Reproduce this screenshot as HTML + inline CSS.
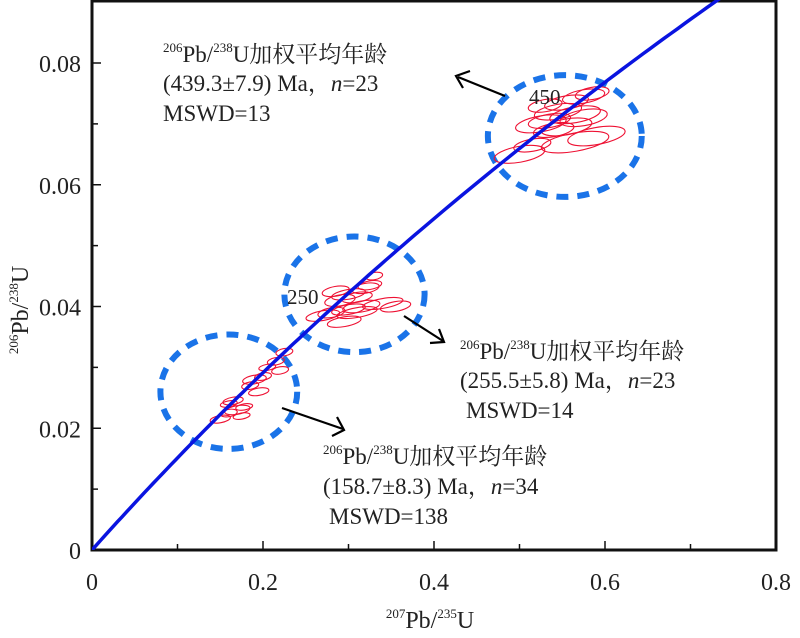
<!DOCTYPE html>
<html><head><meta charset="utf-8"><style>
body{margin:0;background:#fff;}
svg text{font-family:"Liberation Serif","DejaVu Serif","Noto Serif CJK SC",serif;fill:#222;}
</style></head><body>
<svg id="chart" width="800" height="633" viewBox="0 0 800 633" xmlns="http://www.w3.org/2000/svg" font-family="Liberation Serif, DejaVu Serif, Noto Serif CJK SC, serif">
<g id="frame-g"></g>
<g id="circles-g"></g>
<g id="ell-g"></g>
<g id="curve-g"></g>
<g id="text-g">
 <text x="529" y="104" font-size="21">450</text>
 <text x="287" y="304" font-size="21">250</text>
 <g font-size="23">
  <text x="163" y="62"><tspan font-size="13" dy="-10">206</tspan><tspan dy="10">Pb/</tspan><tspan font-size="13" dy="-10">238</tspan><tspan dy="10">U加权平均年龄</tspan></text>
  <text x="163" y="91">(439.3±7.9) Ma，<tspan font-style="italic">n</tspan>=23</text>
  <text x="163" y="121">MSWD=13</text>
 </g>
 <g font-size="23">
  <text x="460" y="359"><tspan font-size="13" dy="-10">206</tspan><tspan dy="10">Pb/</tspan><tspan font-size="13" dy="-10">238</tspan><tspan dy="10">U加权平均年龄</tspan></text>
  <text x="460" y="388">(255.5±5.8) Ma，<tspan font-style="italic">n</tspan>=23</text>
  <text x="466" y="418">MSWD=14</text>
 </g>
 <g font-size="23">
  <text x="323" y="464"><tspan font-size="13" dy="-10">206</tspan><tspan dy="10">Pb/</tspan><tspan font-size="13" dy="-10">238</tspan><tspan dy="10">U加权平均年龄</tspan></text>
  <text x="323" y="494">(158.7±8.3) Ma，<tspan font-style="italic">n</tspan>=34</text>
  <text x="329" y="524">MSWD=138</text>
 </g>
 <g stroke="#000" stroke-width="2.2" fill="none">
  <line x1="505" y1="96" x2="458" y2="77"/><polyline points="470,71 456,76 463,88"/>
  <line x1="404" y1="316" x2="443" y2="341"/><polyline points="430,343 444,342 439,329"/>
  <line x1="282" y1="408" x2="343" y2="429"/><polyline points="332,436 344,430 337,417"/>
 </g>
 <text x="430" y="628" font-size="24" text-anchor="middle"><tspan font-size="13" dy="-10">207</tspan><tspan dy="10">Pb/</tspan><tspan font-size="13" dy="-10">235</tspan><tspan dy="10">U</tspan></text>
 <text transform="translate(28,310) rotate(-90)" font-size="24" text-anchor="middle"><tspan font-size="13" dy="-10">206</tspan><tspan dy="10">Pb/</tspan><tspan font-size="13" dy="-10">238</tspan><tspan dy="10">U</tspan></text>
</g>
</svg>
<script>
const xTicks=[0,0.2,0.4,0.6,0.8];
const xTickLabels=["0","0.2","0.4","0.6","0.8"];
const yTicks=[0,0.02,0.04,0.06,0.08];
const yTickLabels=["0","0.02","0.04","0.06","0.08"];
// ellipse centers (207/235, 206/238) and half-widths in data units
const ellX=[0.150,0.160,0.170,0.165,0.178,0.185,0.195,0.200,0.190,0.205,0.215,0.225,0.220,0.175,0.160,
 0.270,0.280,0.290,0.300,0.310,0.320,0.330,0.300,0.315,0.340,0.355,0.285,0.295,0.325,0.310,
 0.500,0.515,0.525,0.535,0.545,0.555,0.565,0.575,0.585,0.540,0.555,0.575,0.590,0.530,0.565];
const ellY=[0.0215,0.0225,0.0230,0.0245,0.0235,0.0270,0.0260,0.0285,0.0280,0.0300,0.0310,0.0325,0.0295,0.0220,0.0240,
 0.0385,0.0390,0.0410,0.0420,0.0415,0.0430,0.0450,0.0395,0.0400,0.0405,0.0400,0.0425,0.0375,0.0435,0.0390,
 0.0650,0.0665,0.0700,0.0705,0.0720,0.0735,0.0715,0.0745,0.0750,0.0690,0.0695,0.0710,0.0680,0.0730,0.0670];
const ellRx=[0.012,0.010,0.015,0.012,0.010,0.010,0.012,0.010,0.014,0.010,0.010,0.010,0.010,0.010,0.010,
 0.020,0.016,0.018,0.020,0.018,0.016,0.010,0.020,0.022,0.024,0.018,0.016,0.020,0.014,0.024,
 0.030,0.022,0.030,0.025,0.028,0.026,0.030,0.025,0.020,0.024,0.030,0.028,0.034,0.020,0.040];
const ellRy=[0.0006,0.0006,0.0007,0.0006,0.0005,0.0006,0.0006,0.0006,0.0007,0.0005,0.0006,0.0006,0.0006,0.0005,0.0005,
 0.0008,0.0008,0.0009,0.0008,0.0008,0.0008,0.0006,0.0008,0.0009,0.0008,0.0008,0.0008,0.0008,0.0007,0.0008,
 0.0013,0.0010,0.0013,0.0011,0.0012,0.0011,0.0013,0.0011,0.0010,0.0011,0.0013,0.0013,0.0014,0.0010,0.0015];
const circCx=[0.160,0.307,0.553];
const circCy=[0.0260,0.0420,0.0680];
const circRx=[0.080,0.082,0.090];
const circRy=[0.0094,0.0095,0.0100];
const X0=92,X1=776,Y0=550,Y1=63;
function sx(v){return X0+(X1-X0)*v/0.8;}
function sy(v){return Y0-(Y0-Y1)*v/0.08;}
const NS="http://www.w3.org/2000/svg";
function mk(tag,attrs,parent){const e=document.createElementNS(NS,tag);for(const k in attrs)e.setAttribute(k,attrs[k]);parent.appendChild(e);return e;}
const fr=document.getElementById('frame-g');
const box=mk('rect',{x:X0,y:1,width:X1-X0,height:Y0-1,fill:'none',stroke:'#111','stroke-width':3},fr);


for(let i=0;i<=8;i++){const v=i*0.1;const x=sx(v);const t=mk('line',{x1:x,x2:x,y1:Y0,y2:Y0-(i%2?6:9),stroke:'#111','stroke-width':1.5},fr);

}
for(let i=0;i<=8;i++){const v=i*0.01;const y=sy(v);const t=mk('line',{x1:X0,x2:X0+(i%2?6:9),y1:y,y2:y,stroke:'#111','stroke-width':1.5},fr);

}
xTicks.forEach((v,i)=>{const t=mk('text',{x:sx(v),y:Y0+40,'font-size':24,'text-anchor':'middle'},fr);t.textContent=xTickLabels[i];

});
yTicks.forEach((v,i)=>{const t=mk('text',{x:X0-11,y:sy(v)+9,'font-size':24,'text-anchor':'end'},fr);t.textContent=yTickLabels[i];

});
const cg=document.getElementById('circles-g');
circCx.forEach((c,i)=>{const e=mk('ellipse',{cx:sx(c),cy:sy(circCy[i]),rx:sx(circRx[i])-X0,ry:Y0-sy(circRy[i]),fill:'none',stroke:'#1a73e8','stroke-width':6,'stroke-dasharray':'12 9'},cg);

});
const eg=document.getElementById('ell-g');
ellX.forEach((c,i)=>{const x=sx(c),y=sy(ellY[i]);const e=mk('ellipse',{cx:x,cy:y,rx:sx(ellRx[i])-X0,ry:Y0-sy(ellRy[i]),fill:'none',stroke:'#ee1133','stroke-width':1.1,transform:`rotate(-10 ${x} ${y})`},eg);

});
const l238=1.55125e-4,l235=9.8485e-4;let pts=[];
for(let t=0;t<=560;t+=5){const px=Math.exp(l235*t)-1,py=Math.exp(l238*t)-1;pts.push(sx(px).toFixed(1)+','+sy(py).toFixed(1));}
const cv=mk('polyline',{points:pts.join(' '),fill:'none',stroke:'#0a14e0','stroke-width':3.5},document.getElementById('curve-g'));


const clip=mk('clipPath',{id:'c'},document.getElementById('chart'));mk('rect',{x:X0,y:0,width:X1-X0,height:Y0},clip);
document.getElementById('curve-g').setAttribute('clip-path','url(#c)');
</script>
</body></html>
